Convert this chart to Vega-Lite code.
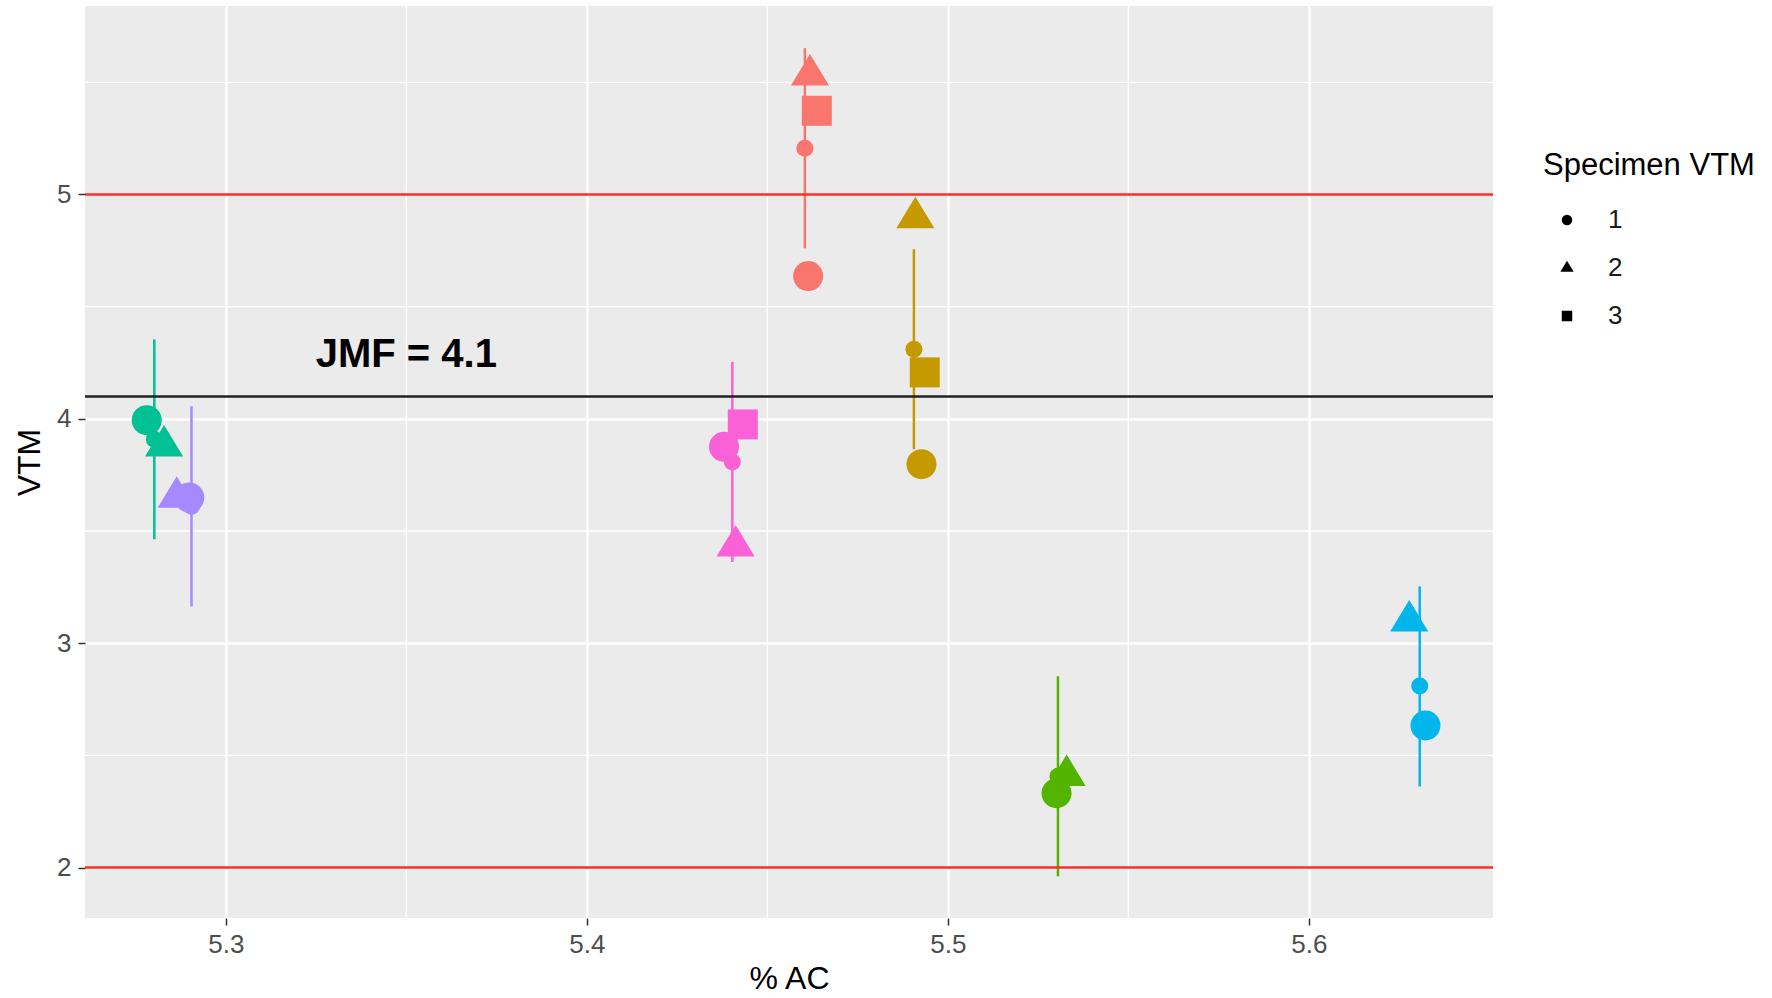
{
  "$schema": "https://vega.github.io/schema/vega-lite/v6.json",
  "width": 1408,
  "height": 912,
  "autosize": {"type": "none"},
  "padding": {"left": 85, "top": 6, "right": 279, "bottom": 80},
  "background": "white",
  "config": {
    "view": {"fill": "#EBEBEB", "stroke": null},
    "font": "Liberation Sans",
    "axis": {
      "grid": true, "gridColor": "white", "gridWidth": 2.5,
      "domain": false, "tickColor": "#333333", "tickSize": 7, "tickWidth": 1.5,
      "labelColor": "#4D4D4D", "labelFontSize": 26, "labelFont": "Liberation Sans",
      "titleFontSize": 32, "titleColor": "black", "titleFontWeight": "normal", "titleFont": "Liberation Sans"
    },
    "legend": {
      "orient": "none", "legendX": 1458, "legendY": 145,
      "titleFontSize": 31, "titleFontWeight": "normal", "titleColor": "black", "titleFont": "Liberation Sans", "titleLimit": 400,
      "labelFontSize": 26, "labelColor": "#1A1A1A", "labelFont": "Liberation Sans",
      "symbolSize": 110, "symbolFillColor": "black", "symbolStrokeWidth": 0, "symbolOpacity": 1,
      "rowPadding": 22, "titlePadding": 25, "symbolOffset": 11, "labelOffset": 28
    }
  },
  "datasets": {
    "specimens": [
      {"group": "A", "specimen": "2", "x": 5.4618, "y": 5.533},
      {"group": "A", "specimen": "3", "x": 5.4637, "y": 5.373},
      {"group": "A", "specimen": "1", "x": 5.4613, "y": 4.636},
      {"group": "B", "specimen": "2", "x": 5.4910, "y": 4.896},
      {"group": "B", "specimen": "3", "x": 5.4936, "y": 4.207},
      {"group": "B", "specimen": "1", "x": 5.4927, "y": 3.798},
      {"group": "C", "specimen": "1", "x": 5.5301, "y": 2.331},
      {"group": "C", "specimen": "2", "x": 5.5329, "y": 2.410},
      {"group": "D", "specimen": "1", "x": 5.2781, "y": 3.994},
      {"group": "D", "specimen": "2", "x": 5.2829, "y": 3.879},
      {"group": "E", "specimen": "2", "x": 5.6278, "y": 3.099},
      {"group": "E", "specimen": "1", "x": 5.6323, "y": 2.633},
      {"group": "F", "specimen": "2", "x": 5.2864, "y": 3.650},
      {"group": "F", "specimen": "1", "x": 5.2899, "y": 3.649},
      {"group": "G", "specimen": "3", "x": 5.4432, "y": 3.975},
      {"group": "G", "specimen": "1", "x": 5.4380, "y": 3.875},
      {"group": "G", "specimen": "2", "x": 5.4412, "y": 3.433}
    ],
    "summary": [
      {"group": "A", "x": 5.4604, "mean": 5.206, "lo": 4.760, "hi": 5.652},
      {"group": "B", "x": 5.4906, "mean": 4.310, "lo": 3.864, "hi": 4.756},
      {"group": "C", "x": 5.5305, "mean": 2.407, "lo": 1.961, "hi": 2.853},
      {"group": "D", "x": 5.2802, "mean": 3.909, "lo": 3.463, "hi": 4.354},
      {"group": "E", "x": 5.6307, "mean": 2.809, "lo": 2.361, "hi": 3.253},
      {"group": "F", "x": 5.2905, "mean": 3.610, "lo": 3.164, "hi": 4.056},
      {"group": "G", "x": 5.4403, "mean": 3.808, "lo": 3.362, "hi": 4.254}
    ]
  },
  "layer": [
    {
      "data": {"values": [{"x": 5.35}, {"x": 5.45}, {"x": 5.55}]},
      "mark": {"type": "rule", "color": "white", "strokeWidth": 1.3},
      "encoding": {
        "x": {"field": "x", "type": "quantitative",
          "scale": {"domain": [5.261, 5.651], "nice": false, "zero": false},
          "axis": {"title": "% AC", "values": [5.3, 5.4, 5.5, 5.6], "format": ".1f", "labelPadding": 6, "titlePadding": 6}}
      }
    },
    {
      "data": {"values": [{"y": 2.5}, {"y": 3.5}, {"y": 4.5}, {"y": 5.5}]},
      "mark": {"type": "rule", "color": "white", "strokeWidth": 1.3},
      "encoding": {
        "y": {"field": "y", "type": "quantitative",
          "scale": {"domain": [1.775, 5.84], "nice": false, "zero": false},
          "axis": {"title": "VTM", "values": [2, 3, 4, 5], "format": "d", "labelPadding": 7, "titlePadding": 10}}
      }
    },
    {
      "data": {"name": "summary"},
      "mark": {"type": "rule", "strokeWidth": 2.5},
      "encoding": {
        "x": {"field": "x", "type": "quantitative", "title": "% AC"},
        "y": {"field": "lo", "type": "quantitative", "title": "VTM"},
        "y2": {"field": "hi"},
        "color": {"field": "group", "type": "nominal", "legend": null,
          "scale": {"domain": ["A", "B", "C", "D", "E", "F", "G"],
            "range": ["#F8766D", "#C49A00", "#53B400", "#00C094", "#00B6EB", "#A58AFF", "#FB61D7"]}}
      }
    },
    {
      "data": {"values": [{"y": 5}, {"y": 2}]},
      "mark": {"type": "rule", "color": "#FF2A2A", "strokeWidth": 2.5},
      "encoding": {"y": {"field": "y", "type": "quantitative", "title": "VTM"}}
    },
    {
      "data": {"values": [{"y": 4.1}]},
      "mark": {"type": "rule", "color": "#222222", "strokeWidth": 2.5},
      "encoding": {"y": {"field": "y", "type": "quantitative", "title": "VTM"}}
    },
    {
      "data": {"name": "summary"},
      "mark": {"type": "point", "filled": true, "opacity": 1, "shape": "circle", "size": 289},
      "encoding": {
        "x": {"field": "x", "type": "quantitative", "title": "% AC"},
        "y": {"field": "mean", "type": "quantitative", "title": "VTM"},
        "color": {"field": "group", "type": "nominal", "legend": null}
      }
    },
    {
      "data": {"name": "specimens"},
      "mark": {"type": "point", "filled": true, "opacity": 1, "size": 900},
      "encoding": {
        "x": {"field": "x", "type": "quantitative", "title": "% AC"},
        "y": {"field": "y", "type": "quantitative", "title": "VTM"},
        "color": {"field": "group", "type": "nominal", "legend": null},
        "shape": {"field": "specimen", "type": "nominal", "title": "Specimen VTM",
          "scale": {"domain": ["1", "2", "3"], "range": ["circle", "M0,-1.4L1.27,0.7L-1.27,0.7Z", "square"]}}
      }
    },
    {
      "data": {"values": [{"label": "JMF = 4.1", "x": 5.35, "y": 4.285}]},
      "mark": {"type": "text", "font": "Liberation Sans", "fontWeight": "bold", "fontSize": 40, "color": "black", "align": "center", "baseline": "middle"},
      "encoding": {
        "x": {"field": "x", "type": "quantitative", "title": "% AC"},
        "y": {"field": "y", "type": "quantitative", "title": "VTM"},
        "text": {"field": "label"}
      }
    }
  ]
}
